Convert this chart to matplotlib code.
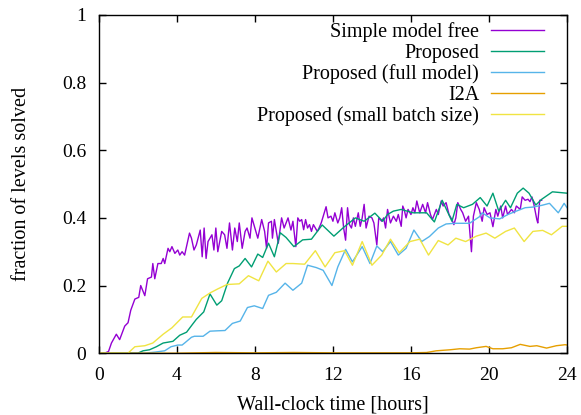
import matplotlib
matplotlib.use("Agg")
import matplotlib.pyplot as plt

# ---- data ----
free_x = [0.0, 0.3, 0.5, 0.65, 0.9, 1.07, 1.33, 1.5, 1.64, 1.85, 2.05, 2.15, 2.36, 2.5, 2.7, 2.77, 2.87,
          3.03, 3.2, 3.3, 3.38, 3.55, 3.64, 3.75, 3.9, 4.05, 4.15, 4.27, 4.4, 4.65, 4.75, 4.88, 5.0, 5.2,
          5.3, 5.4, 5.5, 5.6, 5.8, 5.9, 6.0, 6.1, 6.3, 6.45, 6.57, 6.7, 6.85, 6.97, 7.1, 7.2, 7.35, 7.5,
          7.6, 7.75, 7.85, 8.0, 8.15, 8.35, 8.5, 8.6, 8.7, 8.85, 8.9, 9.0, 9.2, 9.37, 9.5, 9.7, 9.85,
          9.95, 10.1, 10.2, 10.3, 10.4, 10.5, 10.6, 10.7, 10.8, 10.9, 11.0, 11.2, 11.25, 11.4, 11.65,
          11.75, 11.9, 12.0, 12.1, 12.25, 12.35, 12.45, 12.55, 12.65, 12.75, 12.85, 12.95, 13.05, 13.15,
          13.3, 13.4, 13.5, 13.6, 13.7, 13.85, 14.0, 14.1, 14.25, 14.35, 14.5, 14.6, 14.7, 14.8, 14.95,
          15.1, 15.25, 15.35, 15.5, 15.58, 15.65, 15.75, 15.85, 16.0, 16.1, 16.2, 16.3, 16.45, 16.6,
          16.75, 16.85, 17.0, 17.1, 17.3, 17.4, 17.55, 17.65, 17.8, 17.95, 18.1, 18.2, 18.3, 18.4,
          18.55, 18.65, 18.8, 18.95, 19.1, 19.2, 19.35, 19.5, 19.65, 19.75, 19.9, 20.05, 20.2, 20.35,
          20.45, 20.6, 20.7, 20.85, 20.95, 21.15, 21.3, 21.4, 21.6, 21.7, 21.85, 22.0, 22.1, 22.2,
          22.3, 22.45, 22.5, 22.6, 22.7]
free_y = [0.0, 0.0, 0.005, 0.03, 0.056, 0.04, 0.08, 0.09, 0.127, 0.16, 0.165, 0.20, 0.17, 0.22, 0.225,
          0.265, 0.22, 0.265, 0.265, 0.28, 0.265, 0.31, 0.30, 0.315, 0.295, 0.305, 0.29, 0.30, 0.29,
          0.355, 0.34, 0.305, 0.32, 0.364, 0.285, 0.37, 0.28, 0.33, 0.35, 0.305, 0.37, 0.30, 0.36, 0.35,
          0.31, 0.385, 0.305, 0.37, 0.33, 0.385, 0.31, 0.36, 0.37, 0.34, 0.40, 0.37, 0.34, 0.395, 0.36,
          0.31, 0.385, 0.39, 0.34, 0.395, 0.325, 0.40, 0.37, 0.40, 0.364, 0.39, 0.315, 0.40, 0.39,
          0.395, 0.365, 0.395, 0.37, 0.38, 0.36, 0.38, 0.36, 0.365, 0.385, 0.433, 0.40, 0.405, 0.39,
          0.415, 0.385, 0.40, 0.43, 0.37, 0.334, 0.43, 0.38, 0.37, 0.40, 0.375, 0.415, 0.375, 0.40,
          0.44, 0.37, 0.405, 0.40, 0.385, 0.32, 0.40, 0.39, 0.40, 0.37, 0.425, 0.385, 0.405, 0.39,
          0.41, 0.375, 0.435, 0.425, 0.40, 0.425, 0.41, 0.43, 0.415, 0.45, 0.415, 0.44, 0.415, 0.445,
          0.41, 0.395, 0.425, 0.41, 0.45, 0.435, 0.445, 0.41, 0.395, 0.38, 0.40, 0.445, 0.425, 0.415,
          0.39, 0.405, 0.30, 0.405, 0.445, 0.425, 0.39, 0.43, 0.41, 0.415, 0.374, 0.425, 0.405, 0.435,
          0.40, 0.435, 0.41, 0.425, 0.415, 0.435, 0.425, 0.462, 0.452, 0.455, 0.448, 0.462, 0.44,
          0.395, 0.385, 0.452, 0.452]

prop_x = [0.0, 2.0, 2.27, 2.6, 2.95, 3.3, 3.8, 4.15, 4.5, 4.8, 5.0, 5.38, 5.7, 6.05, 6.3, 6.6, 6.95,
          7.2, 7.5, 7.83, 8.15, 8.4, 8.7, 9.0, 9.3, 9.6, 10.0, 10.45, 10.9, 11.45, 12.05, 12.55, 13.15,
          13.6, 14.15, 14.55, 14.8, 15.1, 15.5, 16.1, 16.55, 16.8, 17.2, 17.6, 18.1, 18.35, 18.7,
          19.15, 19.55, 19.9, 20.2, 20.5, 20.85, 21.1, 21.45, 21.75, 22.05, 22.4, 22.7, 23.25, 24.0]
prop_y = [0.0, 0.0, 0.007, 0.01, 0.019, 0.03, 0.035, 0.053, 0.062, 0.085, 0.10, 0.122, 0.175, 0.142,
          0.155, 0.207, 0.25, 0.258, 0.28, 0.255, 0.293, 0.283, 0.325, 0.285, 0.356, 0.342, 0.315,
          0.335, 0.337, 0.379, 0.346, 0.372, 0.40, 0.39, 0.414, 0.39, 0.41, 0.42, 0.425, 0.415, 0.415,
          0.415, 0.388, 0.452, 0.39, 0.44, 0.43, 0.44, 0.46, 0.435, 0.473, 0.42, 0.452, 0.43, 0.473,
          0.488, 0.473, 0.438, 0.455, 0.477, 0.473]

full_x = [0.0, 2.35, 2.87, 3.38, 3.7, 4.05, 4.27, 4.4, 4.75, 4.9, 5.35, 5.7, 6.05, 6.47, 6.85, 7.25,
          7.62, 7.97, 8.4, 8.7, 9.1, 9.55, 9.95, 10.4, 10.7, 11.15, 11.5, 11.95, 12.25, 12.65, 13.0,
          13.5, 13.9, 14.25, 14.55, 14.95, 15.35, 15.75, 16.15, 16.55, 16.95, 17.4, 17.8, 18.25,
          18.65, 19.0, 19.5, 19.65, 20.05, 20.55, 20.97, 21.4, 21.85, 22.25, 22.7, 23.1, 23.55, 23.85,
          24.0]
full_y = [0.0, 0.0, 0.003, 0.007, 0.019, 0.024, 0.024, 0.03, 0.047, 0.05, 0.05, 0.065, 0.066, 0.067,
          0.088, 0.095, 0.135, 0.14, 0.132, 0.171, 0.18, 0.207, 0.186, 0.207, 0.26, 0.253, 0.245,
          0.20, 0.255, 0.307, 0.27, 0.315, 0.265, 0.317, 0.30, 0.33, 0.29, 0.31, 0.364, 0.33, 0.345,
          0.37, 0.382, 0.384, 0.384, 0.384, 0.403, 0.415, 0.40, 0.397, 0.41, 0.42, 0.43, 0.432, 0.437,
          0.443, 0.415, 0.443, 0.43]

i2a_x = [0.0, 2.0, 4.0, 6.0, 8.0, 10.0, 12.0, 14.0, 16.0, 16.8, 17.3, 18.0, 18.5, 19.0, 19.35, 19.85,
         20.2, 20.7, 21.15, 21.6, 22.1, 22.45, 22.95, 23.45, 23.9, 24.0]
i2a_y = [0.0, 0.0, 0.0, 0.002, 0.001, 0.002, 0.001, 0.001, 0.001, 0.002, 0.007, 0.01, 0.013, 0.012,
         0.016, 0.02, 0.013, 0.013, 0.016, 0.026, 0.02, 0.022, 0.015, 0.022, 0.025, 0.024]

small_x = [0.0, 1.5, 1.85, 2.36, 2.77, 3.3, 3.75, 4.3, 4.75, 5.28, 5.7, 6.1, 6.57, 7.2, 7.67, 8.2,
           8.67, 9.1, 9.6, 9.95, 10.55, 11.1, 11.6, 12.1, 12.6, 13.0, 13.5, 14.0, 14.5, 14.95, 15.4,
           15.95, 16.45, 16.9, 17.4, 17.9, 18.3, 18.8, 19.35, 19.85, 20.3, 20.85, 21.3, 21.8, 22.25,
           22.75, 23.2, 23.75, 24.0]
small_y = [0.0, 0.0, 0.019, 0.022, 0.03, 0.056, 0.075, 0.107, 0.107, 0.162, 0.178, 0.19, 0.203,
           0.205, 0.229, 0.214, 0.272, 0.24, 0.265, 0.265, 0.263, 0.303, 0.255, 0.297, 0.303, 0.26,
           0.33, 0.26, 0.29, 0.337, 0.297, 0.33, 0.337, 0.29, 0.333, 0.32, 0.34, 0.33, 0.346, 0.355,
           0.34, 0.36, 0.37, 0.33, 0.36, 0.363, 0.35, 0.375, 0.375]

labels = ["Simple model free", "Proposed", "Proposed (full model)", "I2A",
          "Proposed (small batch size)"]
colors = ["#9400D3", "#009E73", "#56B4E9", "#E69F00", "#F0E442"]
x_ticks = [0, 4, 8, 12, 16, 20, 24]
y_ticks = [0, 0.2, 0.4, 0.6, 0.8, 1]
y_tick_labels = ["0", "0.2", "0.4", "0.6", "0.8", "1"]

plt.rcParams['font.family'] = ['Liberation Serif', 'DejaVu Serif']
plt.rcParams['font.size'] = 14.5

fig = plt.figure(figsize=(5.81, 4.15), dpi=100)
ax = fig.add_axes([0.170, 0.149, 0.806, 0.815])

series = [(free_x, free_y), (prop_x, prop_y), (full_x, full_y), (i2a_x, i2a_y), (small_x, small_y)]
for (xs, ys), lab, col in zip(series, labels, colors):
    ax.plot(xs, ys, color=col, lw=1.0, label=lab)

ax.set_xlim(0, 24)
ax.set_ylim(0, 1)
ax.set_xticks(x_ticks)
ax.set_yticks(y_ticks)
ax.set_yticklabels(y_tick_labels)
ax.tick_params(direction='in', length=5, width=1, top=True, right=True, labelsize=14)
ax.tick_params(axis='x', pad=10)
ax.tick_params(axis='y', pad=9)
for s in ax.spines.values():
    s.set_linewidth(1.0)
ax.set_xlabel("Wall-clock time [hours]", labelpad=8)
ax.set_ylabel("fraction of levels solved", labelpad=22)

leg = ax.legend(loc='upper right', bbox_to_anchor=(0.95, 0.978), frameon=False, markerfirst=False,
                handlelength=2.6, handletextpad=0.6, labelspacing=0.07, borderaxespad=0,
                borderpad=0)

fig.savefig("out.png", dpi=100)
